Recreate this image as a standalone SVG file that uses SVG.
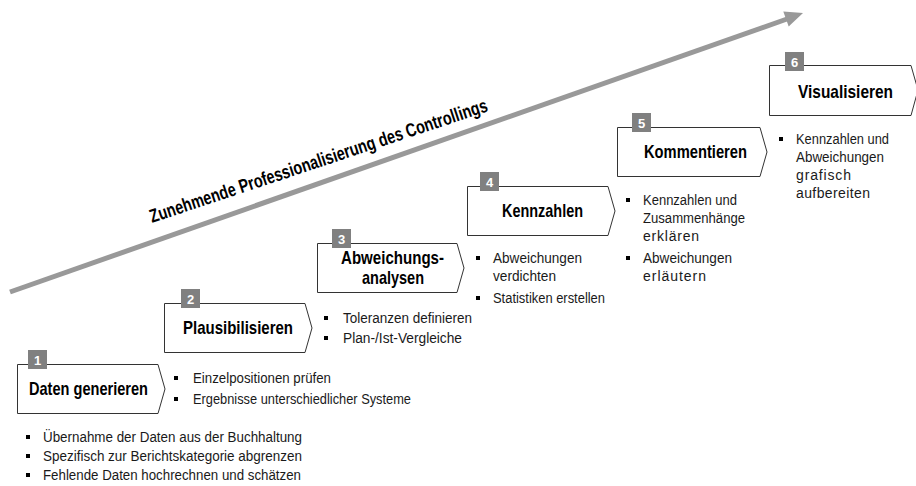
<svg xmlns="http://www.w3.org/2000/svg" width="916" height="486" viewBox="0 0 916 486">
<style>
.box{fill:#fff;stroke:#333;stroke-width:1}
.badge{fill:#808080}
.num{font-family:"Liberation Sans Narrow","Liberation Sans",Arial,sans-serif;font-weight:bold;font-size:13px;fill:#fff;text-anchor:middle}
.hd{font-family:"Liberation Sans Narrow","Liberation Sans",Arial,sans-serif;font-weight:bold;font-size:19px;fill:#000;text-anchor:middle}
.tx{font-family:"Liberation Sans Narrow","Liberation Sans",Arial,sans-serif;font-size:14px;fill:#1a1a1a}
.bl{fill:#000}
.ax{font-family:"Liberation Sans Narrow","Liberation Sans",Arial,sans-serif;font-weight:bold;font-size:19px;fill:#000}
</style>
<g id="connectors">
<line x1="10" y1="292" x2="787" y2="19" stroke="#999" stroke-width="5"/>
<polygon points="803,13 783.3,11.5 788.7,26.5" fill="#999"/>
<text class="ax" transform="translate(152,223) rotate(-18.4)" textLength="355" lengthAdjust="spacingAndGlyphs">Zunehmende Professionalisierung des Controllings</text>
</g>
<g id="node1">
<path class="box" d="M17.5,364.5 H158 L165,389 L158,413.5 H17.5 Z"/>
<rect class="badge" x="28" y="350" width="19" height="19"/>
<text class="num" x="37.5" y="365">1</text>
<text class="hd" x="88.5" y="395" textLength="119" lengthAdjust="spacingAndGlyphs">Daten generieren</text>
<rect class="bl" x="174" y="376" width="4" height="4"/>
<text class="tx" x="193" y="383" textLength="138" lengthAdjust="spacingAndGlyphs">Einzelpositionen prüfen</text>
<rect class="bl" x="174" y="397" width="4" height="4"/>
<text class="tx" x="193" y="404" textLength="218" lengthAdjust="spacingAndGlyphs">Ergebnisse unterschiedlicher Systeme</text>
<rect class="bl" x="26" y="435" width="4" height="4"/>
<text class="tx" x="43" y="442" textLength="259" lengthAdjust="spacingAndGlyphs">Übernahme der Daten aus der Buchhaltung</text>
<rect class="bl" x="26" y="454" width="4" height="4"/>
<text class="tx" x="43" y="461" textLength="259" lengthAdjust="spacingAndGlyphs">Spezifisch zur Berichtskategorie abgrenzen</text>
<rect class="bl" x="26" y="473" width="4" height="4"/>
<text class="tx" x="43" y="480" textLength="258" lengthAdjust="spacingAndGlyphs">Fehlende Daten hochrechnen und schätzen</text>
</g>
<g id="node2">
<path class="box" d="M164.5,303.5 H305 L312,328 L305,352.5 H164.5 Z"/>
<rect class="badge" x="181" y="289" width="19" height="19"/>
<text class="num" x="190.5" y="304">2</text>
<text class="hd" x="238" y="334" textLength="110" lengthAdjust="spacingAndGlyphs">Plausibilisieren</text>
<rect class="bl" x="324" y="316" width="4" height="4"/>
<text class="tx" x="343" y="323" textLength="129" lengthAdjust="spacingAndGlyphs">Toleranzen definieren</text>
<rect class="bl" x="324" y="336" width="4" height="4"/>
<text class="tx" x="343" y="343" textLength="119" lengthAdjust="spacingAndGlyphs">Plan-/Ist-Vergleiche</text>
</g>
<g id="node3">
<path class="box" d="M317.5,243.5 H457 L464,268 L457,292.5 H317.5 Z"/>
<rect class="badge" x="332" y="229" width="19" height="19"/>
<text class="num" x="341.5" y="244">3</text>
<text class="hd" x="392.5" y="264" textLength="103" lengthAdjust="spacingAndGlyphs">Abweichungs-</text>
<text class="hd" x="393" y="284" textLength="62" lengthAdjust="spacingAndGlyphs">analysen</text>
<rect class="bl" x="476" y="256" width="4" height="4"/>
<text class="tx" x="493" y="263" textLength="89" lengthAdjust="spacingAndGlyphs">Abweichungen</text>
<text class="tx" x="493" y="281" textLength="63" lengthAdjust="spacingAndGlyphs">verdichten</text>
<rect class="bl" x="476" y="296" width="4" height="4"/>
<text class="tx" x="493" y="303" textLength="112" lengthAdjust="spacingAndGlyphs">Statistiken erstellen</text>
</g>
<g id="node4">
<path class="box" d="M467.5,186.5 H608 L615,211 L608,235.5 H467.5 Z"/>
<rect class="badge" x="480" y="172" width="19" height="19"/>
<text class="num" x="489.5" y="187">4</text>
<text class="hd" x="542.5" y="217" textLength="81" lengthAdjust="spacingAndGlyphs">Kennzahlen</text>
<rect class="bl" x="626" y="198" width="4" height="4"/>
<text class="tx" x="643" y="205" textLength="94" lengthAdjust="spacingAndGlyphs">Kennzahlen und</text>
<text class="tx" x="643" y="223" textLength="102" lengthAdjust="spacingAndGlyphs">Zusammenhänge</text>
<text class="tx" x="643" y="241" textLength="56" lengthAdjust="spacing">erklären</text>
<rect class="bl" x="626" y="256" width="4" height="4"/>
<text class="tx" x="643" y="263" textLength="89" lengthAdjust="spacingAndGlyphs">Abweichungen</text>
<text class="tx" x="643" y="281" textLength="63" lengthAdjust="spacing">erläutern</text>
</g>
<g id="node5">
<path class="box" d="M617.5,127.5 H760 L767,152 L760,176.5 H617.5 Z"/>
<rect class="badge" x="632" y="113" width="19" height="19"/>
<text class="num" x="641.5" y="128">5</text>
<text class="hd" x="695.5" y="158" textLength="103" lengthAdjust="spacingAndGlyphs">Kommentieren</text>
<rect class="bl" x="779" y="137" width="4" height="4"/>
<text class="tx" x="796" y="144" textLength="93" lengthAdjust="spacingAndGlyphs">Kennzahlen und</text>
<text class="tx" x="796" y="162" textLength="88" lengthAdjust="spacingAndGlyphs">Abweichungen</text>
<text class="tx" x="796" y="180" textLength="55" lengthAdjust="spacing">grafisch</text>
<text class="tx" x="796" y="198" textLength="74" lengthAdjust="spacing">aufbereiten</text>
</g>
<g id="node6">
<path class="box" d="M769.5,65.5 H911 L918,90 L911,115.5 H769.5 Z"/>
<rect class="badge" x="785" y="52" width="19" height="19"/>
<text class="num" x="794.5" y="67">6</text>
<text class="hd" x="845.5" y="98" textLength="95" lengthAdjust="spacingAndGlyphs">Visualisieren</text>
</g>
</svg>
